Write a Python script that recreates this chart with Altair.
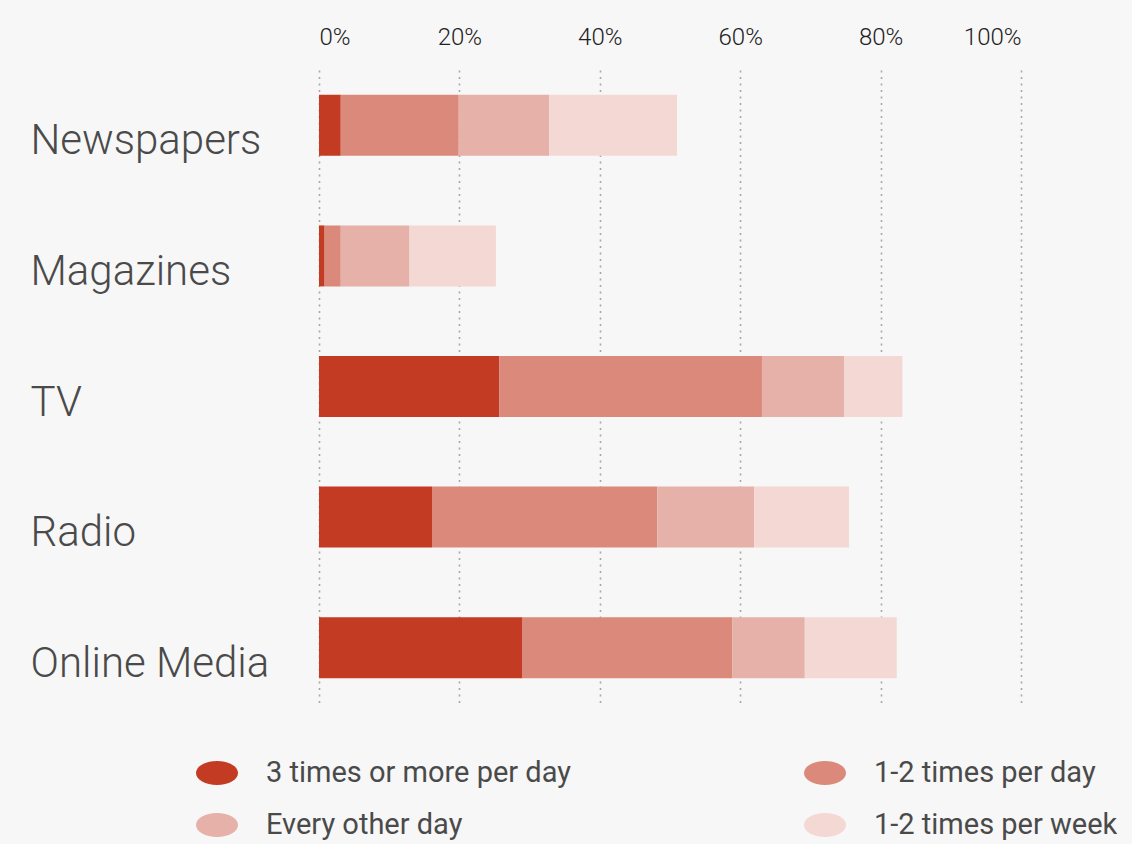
import altair as alt
import pandas as pd

categories = ["Newspapers", "Magazines", "TV", "Radio", "Online Media"]
frequencies = ["3 times or more per day", "1-2 times per day", "Every other day", "1-2 times per week"]
colors = ["#c33b23", "#db897b", "#e5b1a8", "#f3d8d4"]
# legend is filled column by column, so list the entries in that order
legend_order = [0, 2, 1, 3]

# percent of respondents, per frequency band (stacked left to right)
three_plus = [3.1, 0.8, 25.7, 16.1, 29.0]
one_two_day = [16.8, 2.3, 37.4, 32.1, 29.9]
every_other = [12.9, 9.8, 11.7, 13.8, 10.3]
one_two_week = [18.2, 12.3, 8.3, 13.5, 13.1]

tick_values = [0, 20, 40, 60, 80, 100]

series = [three_plus, one_two_day, every_other, one_two_week]
rows = []
for fi, (freq, vals) in enumerate(zip(frequencies, series)):
    for cat, v in zip(categories, vals):
        rows.append({"category": cat, "frequency": freq, "order": fi, "value": v})
df = pd.DataFrame(rows)

font = "Roboto, sans-serif"
text_color = "#4a4a4a"

ellipse = "M -1 0 A 1 0.57 0 1 1 1 0 A 1 0.57 0 1 1 -1 0 Z"

chart = (
    alt.Chart(df)
    .mark_bar(stroke=None)
    .encode(
        x=alt.X(
            "value:Q",
            stack="zero",
            scale=alt.Scale(domain=[0, 100], nice=False),
            axis=alt.Axis(
                orient="top",
                values=tick_values,
                labelExpr="datum.value + '%'",
                title=None,
                domain=False,
                ticks=False,
                grid=True,
                gridColor="#a8a8a8",
                gridDash=[2, 4.5],
                gridWidth=1.6,
                labelFont=font,
                labelFontWeight=300,
                labelFontSize=24,
                labelColor="#222222",
                labelPadding=21,
            ),
        ),
        y=alt.Y(
            "category:N",
            sort=categories,
            scale=alt.Scale(paddingInner=0.533, paddingOuter=0.19),
            axis=alt.Axis(
                title=None,
                domain=False,
                ticks=False,
                grid=False,
                labelAlign="left",
                labelBaseline="middle",
                labelPadding=289,
                labelOffset=16,
                labelFont=font,
                labelFontWeight=300,
                labelFontSize=42,
                labelColor=text_color,
                labelLimit=400,
            ),
        ),
        color=alt.Color(
            "frequency:N",
            scale=alt.Scale(
                domain=[frequencies[i] for i in legend_order],
                range=[colors[i] for i in legend_order],
            ),
            legend=alt.Legend(
                title=None,
                orient="none",
                legendX=-123,
                legendY=682,
                columns=2,
                gridAlign="all",
                columnPadding=233,
                rowPadding=16,
                symbolType=ellipse,
                symbolSize=1764,
                symbolStrokeWidth=0,
                labelOffset=28,
                labelFont=font,
                labelFontSize=29,
                labelColor=text_color,
                labelLimit=500,
            ),
        ),
        order=alt.Order("order:Q"),
    )
    .properties(
        width=702,
        height=633,
        background="#f7f7f7",
        padding={"left": 319, "top": 70, "right": 111, "bottom": 141},
        autosize=alt.AutoSizeParams(type="none"),
    )
    .configure_view(stroke=None)
)

chart.save("out.html", embed_options={"renderer": "svg", "actions": False})
